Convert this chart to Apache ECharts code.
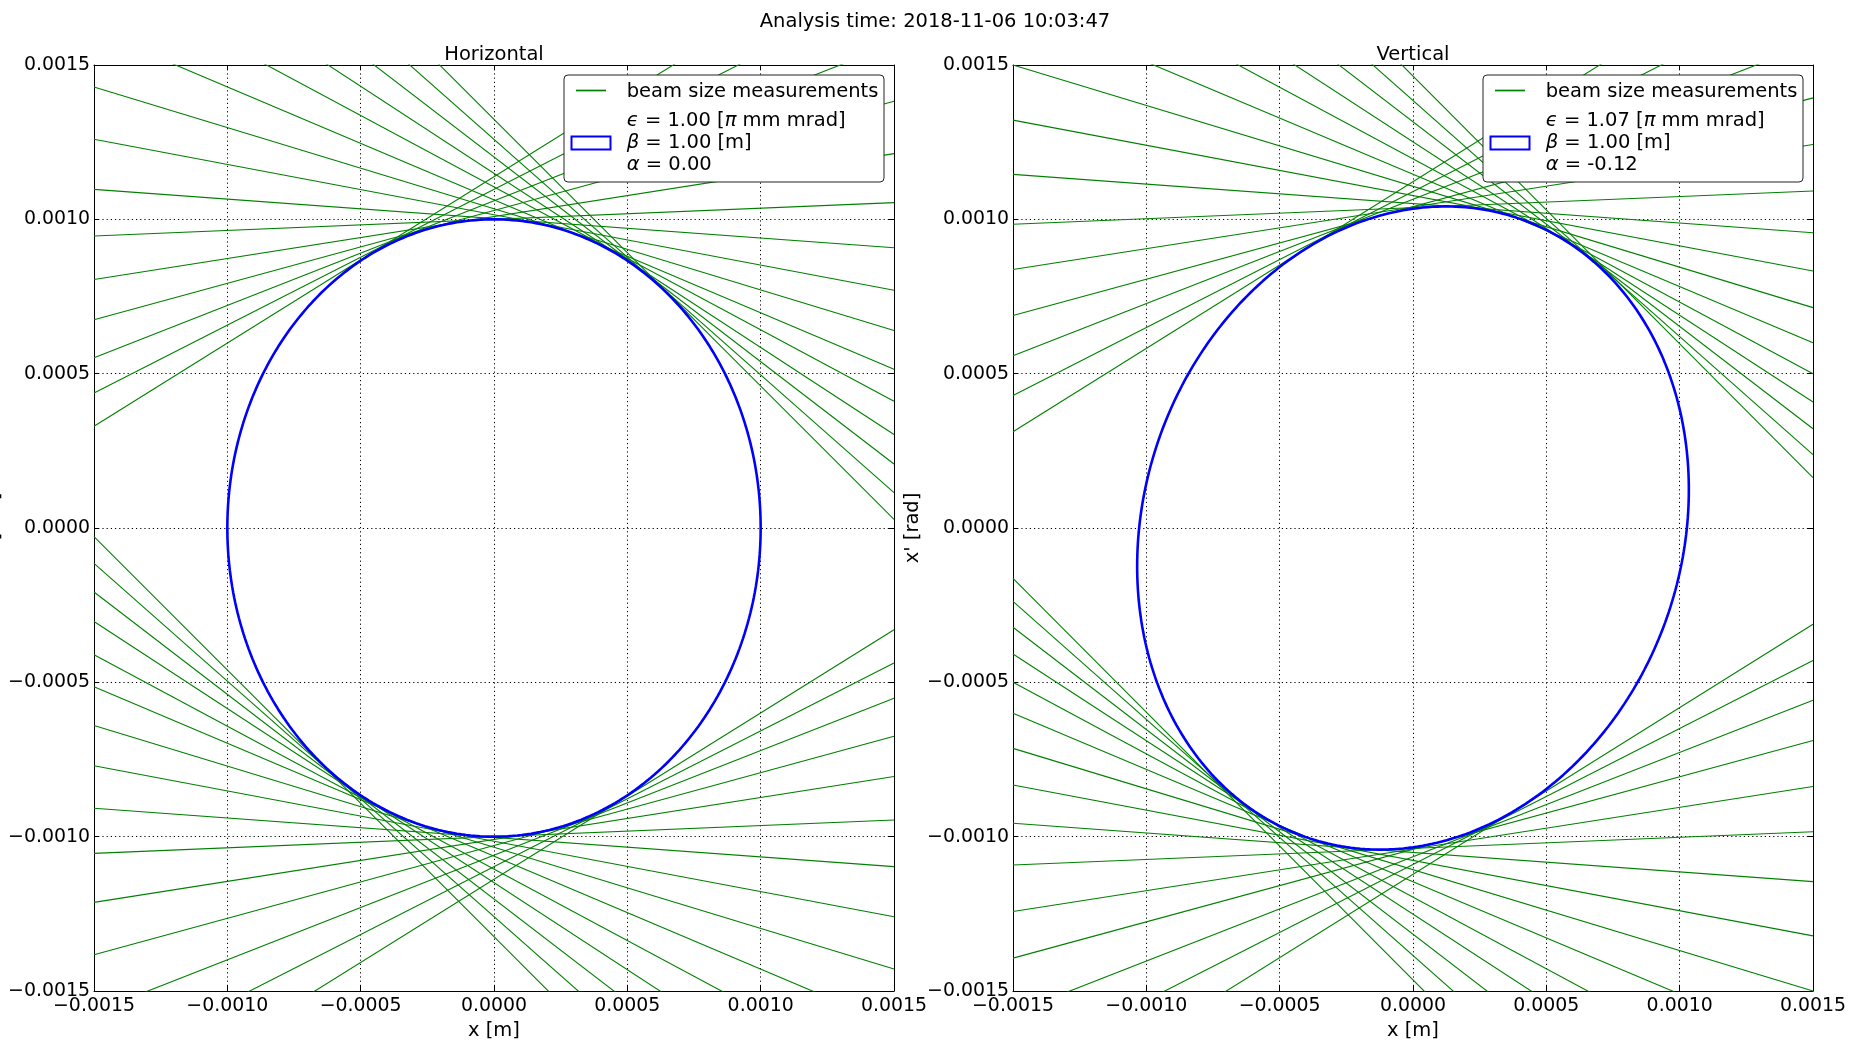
<!DOCTYPE html>
<html>
<head>
<meta charset="utf-8">
<script src="https://cdn.jsdelivr.net/npm/echarts@6/dist/echarts.min.js"></script>
<style>
  html, body { margin: 0; padding: 0; background: #fff; }
  #chart { width: 1851px; height: 1040px; }
</style>
</head>
<body>
<div id="chart"></div>
<script>
// Shared axis range for x [m] and x' [rad] in both panels
const AXIS_MIN = -0.0015, AXIS_MAX = 0.0015, AXIS_STEP = 0.0005;
const tickLabels = ['\u22120.0015', '\u22120.0010', '\u22120.0005', '0.0000', '0.0005', '0.0010', '0.0015'];

// Beam size measurements: each one bounds the beam by the pair x' = k*x + d and x' = k*x - d
const hSlope  = [-0.864, -0.763, -0.663, -0.564, -0.463, -0.366, -0.263, -0.163, -0.063, 0.036, 0.136, 0.236, 0.339, 0.440, 0.539];
const hOffset = [1.324e-3, 1.259e-3, 1.202e-3, 1.149e-3, 1.105e-3, 1.063e-3, 1.0345e-3, 1.015e-3, 1.0025e-3, 1.000e-3, 1.009e-3, 1.0285e-3, 1.060e-3, 1.097e-3, 1.138e-3];
const vSlope  = [-0.867, -0.765, -0.663, -0.562, -0.464, -0.364, -0.262, -0.163, -0.063, 0.036, 0.135, 0.235, 0.338, 0.4405, 0.540];
const vOffset = [1.464e-3, 1.385e-3, 1.316e-3, 1.251e-3, 1.196e-3, 1.146e-3, 1.107e-3, 1.077e-3, 1.051e-3, 1.038e-3, 1.040e-3, 1.041e-3, 1.065e-3, 1.090e-3, 1.122e-3];

// Fitted Twiss parameters: emittance [pi mm mrad], beta [m], alpha
const hTwiss = [1.00, 1.00, 0.00];
const vTwiss = [1.07, 1.00, -0.12];

const suptitle = 'Analysis time: 2018-11-06 10:03:47';
const panelTitles = ['Horizontal', 'Vertical'];

const FONT = '"DejaVu Sans", "Liberation Sans", sans-serif';
const FS = 19.5;        // titles, legend, axis names
const FS_TICK = 18.9;   // tick labels
const GREEN = '#008000', BLUE = '#0000ff';

function tickText(v) {
  const i = Math.round((v - AXIS_MIN) / AXIS_STEP);
  return tickLabels[i] !== undefined ? tickLabels[i] : '';
}

// Phase-space ellipse gamma*x^2 + 2*alpha*x*x' + beta*x'^2 = eps
function ellipsePoints(tw) {
  const eps = tw[0] * 1e-6, beta = tw[1], alpha = tw[2];
  const a = Math.sqrt(eps * beta), b = Math.sqrt(eps / beta);
  const pts = [];
  for (let i = 0; i <= 360; i++) {
    const t = i * Math.PI / 180;
    pts.push([a * Math.cos(t), -b * (alpha * Math.cos(t) + Math.sin(t))]);
  }
  return pts;
}

const panels = [
  { title: panelTitles[0], left: 94,   slope: hSlope, offset: hOffset, twiss: hTwiss },
  { title: panelTitles[1], left: 1013, slope: vSlope, offset: vOffset, twiss: vTwiss }
];
const GRID_TOP = 65, GRID_W = 800, GRID_H = 926;

const grids = [], xAxes = [], yAxes = [], series = [], graphics = [];

const lineAxis = { show: true, onZero: false, lineStyle: { color: '#000', width: 1 } };
const tick = { show: true, inside: true, length: 5, lineStyle: { color: '#000', width: 1 } };
const grid = { show: true, lineStyle: { color: '#000', width: 1, type: [1.2, 3] } };
const labelStyle = { show: true, color: '#000', fontSize: FS_TICK, fontFamily: FONT, formatter: tickText };
const nameStyle = { color: '#000', fontSize: FS, fontFamily: FONT };

panels.forEach((p, g) => {
  grids.push({ left: p.left, top: GRID_TOP, width: GRID_W, height: GRID_H,
               containLabel: false, outerBoundsMode: 'none' });
  const base = { gridIndex: g, type: 'value', min: AXIS_MIN, max: AXIS_MAX, interval: AXIS_STEP,
                 axisLine: lineAxis, axisTick: tick };
  xAxes.push(Object.assign({}, base, { position: 'bottom', name: 'x [m]', nameLocation: 'middle', nameGap: 28,
    nameTextStyle: nameStyle, axisLabel: Object.assign({}, labelStyle, { margin: 6 }), splitLine: grid }));
  xAxes.push(Object.assign({}, base, { position: 'top', axisLabel: { show: false }, splitLine: { show: false } }));
  yAxes.push(Object.assign({}, base, { position: 'left', name: "x' [rad]", nameLocation: 'middle', nameGap: 90,
    nameRotate: 90, nameTextStyle: nameStyle, axisLabel: Object.assign({}, labelStyle, { margin: 4 }), splitLine: grid }));
  yAxes.push(Object.assign({}, base, { position: 'right', axisLabel: { show: false }, splitLine: { show: false } }));

  // measurement lines
  p.slope.forEach((k, i) => {
    const d = p.offset[i];
    [d, -d].forEach(c => {
      series.push({
        type: 'line', name: 'beam size measurements', xAxisIndex: 2 * g, yAxisIndex: 2 * g,
        data: [[AXIS_MIN, k * AXIS_MIN + c], [AXIS_MAX, k * AXIS_MAX + c]],
        symbol: 'none', showSymbol: false, clip: true, silent: true, z: 2,
        lineStyle: { color: GREEN, width: 1.1 }
      });
    });
  });

  // fitted ellipse
  series.push({
    type: 'line', name: 'ellipse', xAxisIndex: 2 * g, yAxisIndex: 2 * g,
    data: ellipsePoints(p.twiss), symbol: 'none', showSymbol: false, clip: true, silent: true, z: 3,
    lineStyle: { color: BLUE, width: 2.6 }
  });

  // panel title
  graphics.push({ type: 'text', x: p.left + GRID_W / 2, y: 55, z: 100,
    style: { text: p.title, fontSize: FS, fontFamily: FONT, fill: '#000', align: 'center', verticalAlign: 'middle' } });

  // legend box
  const bx = p.left + GRID_W - 10 - 320, by = GRID_TOP + 10;
  const tw = p.twiss;
  const rich = { g: { fontStyle: 'italic', fontSize: FS, fontFamily: FONT, fill: '#000' } };
  const txt = (t, y) => ({ type: 'text', x: bx + 62.7, y: y, z: 102,
    style: { text: t, fontSize: FS, fontFamily: FONT, fill: '#000', align: 'left', verticalAlign: 'middle', rich: rich } });
  graphics.push(
    { type: 'rect', z: 100, shape: { x: bx, y: by, width: 320, height: 107, r: 4 },
      style: { fill: '#fff', stroke: '#222', lineWidth: 1 } },
    { type: 'line', z: 101, shape: { x1: bx + 12, y1: by + 15.5, x2: bx + 42, y2: by + 15.5 },
      style: { stroke: GREEN, lineWidth: 1.7 } },
    { type: 'rect', z: 101, shape: { x: bx + 7.5, y: by + 61.5, width: 39, height: 13 },
      style: { fill: '#fff', stroke: BLUE, lineWidth: 2 } },
    txt('beam size measurements', by + 17),
    txt('{g|\u03f5} = ' + tw[0].toFixed(2) + ' [{g|\u03c0} mm mrad]', by + 45.5),
    txt('{g|\u03b2} = ' + tw[1].toFixed(2) + ' [m]', by + 68),
    txt('{g|\u03b1} = ' + tw[2].toFixed(2), by + 90)
  );
});

graphics.push({ type: 'text', x: 935, y: 22, z: 100,
  style: { text: suptitle, fontSize: FS, fontFamily: FONT, fill: '#000', align: 'center', verticalAlign: 'middle' } });

const chart = echarts.init(document.getElementById('chart'), null, { renderer: 'canvas' });
chart.setOption({
  animation: false,
  backgroundColor: '#fff',
  textStyle: { fontFamily: FONT },
  grid: grids,
  xAxis: xAxes,
  yAxis: yAxes,
  series: series,
  graphic: graphics
});
</script>
</body>
</html>
